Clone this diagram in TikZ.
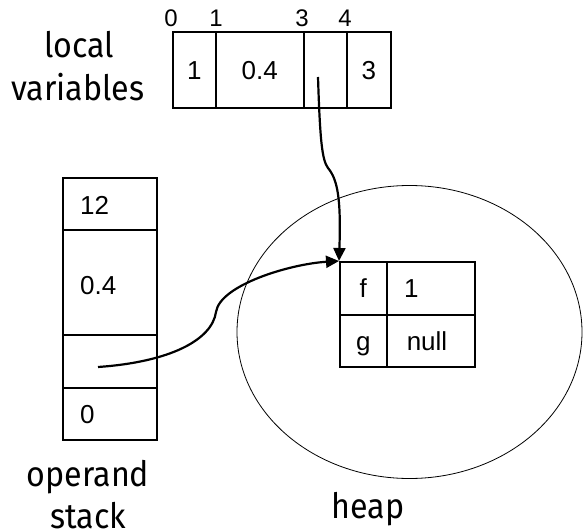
\documentclass[tikz,border=0pt]{standalone}
\usepackage{fontspec}
\setmainfont{Liberation Sans}
\newfontfamily\labelfont[FakeStretch=0.92]{Fira Sans}
\usetikzlibrary{arrows.meta,shapes.geometric}
\begin{document}
\begin{tikzpicture}[x=1pt,y=-1pt,
  cell/.style={draw,line width=1.6pt,anchor=north west,inner sep=0pt,
    text height=18.6pt,text depth=0pt,font=\fontsize{26}{30}\selectfont},
  celltext/.style={inner sep=0pt,text height=18.6pt,text depth=0pt,
    font=\fontsize{26}{30}\selectfont},
  idx/.style={inner sep=0pt,anchor=base,font=\fontsize{24}{28}\selectfont},
  caption/.style={inner sep=0pt,anchor=base,font=\labelfont\fontsize{35}{42}\selectfont},
  ref/.style={line width=2.2pt,-{Triangle[length=13pt,width=12pt]}}]
\useasboundingbox (0,0) rectangle (583,532);

% heap region
\node[ellipse,draw,line width=0.8pt,minimum width=345pt,minimum height=293pt,inner sep=0pt]
  (heap) at (409.5,332) {};

% local variable slots
\node[cell,minimum width=43pt,minimum height=76pt] (lv0) at (172,31) {1};
\node[cell,minimum width=88pt,minimum height=76pt] (lv1) at (215,31) {0.4};
\node[cell,minimum width=43pt,minimum height=76pt] (lv3) at (303,31) {};
\node[cell,minimum width=44pt,minimum height=76pt] (lv4) at (346,31) {3};

% slot indices
\node[idx] (i0) at (171,27) {0};
\node[idx] (i1) at (216,27) {1};
\node[idx] (i3) at (302,27) {3};
\node[idx] (i4) at (345,27) {4};

% operand stack
\node[cell,minimum width=94pt,minimum height=52pt] (s0) at (62,177) {};
\node[cell,minimum width=94pt,minimum height=105pt] (s1) at (62,229) {};
\node[cell,minimum width=94pt,minimum height=53pt] (s2) at (62,334) {};
\node[cell,minimum width=94pt,minimum height=52pt] (s3) at (62,387) {};
\node[celltext,anchor=west] (t12) at (80,205) {12};
\node[celltext,anchor=west] (t04) at (80,285) {0.4};
\node[celltext,anchor=west] (t0) at (80,414) {0};

% object in the heap
\node[cell,minimum width=47pt,minimum height=53pt] (fa) at (339,261) {f};
\node[cell,minimum width=88pt,minimum height=53pt] (fb) at (386,261) {};
\node[cell,minimum width=47pt,minimum height=52pt] (ga) at (339,314) {g};
\node[cell,minimum width=88pt,minimum height=52pt] (gb) at (386,314) {};
\node[celltext,anchor=west] (fv) at (404,288) {1};
\node[celltext] (gv) at (427,341) {null};

% captions
\node[caption] (cap1) at (79,58) {local};
\node[caption] (cap2) at (78,101) {variables};
\node[caption] (cap3) at (88,486) {operand};
\node[caption] (cap4) at (88,528) {stack};
\node[caption] (cap5) at (368,518) {heap};

% references
\coordinate (p3) at (318,77);
\coordinate (p2) at (98,367);
\draw[ref] (p3) .. controls (320,140) and (322,160) .. (328,168)
  .. controls (338,180) and (341,200) .. (fa.north west);
\draw[ref] (p2) .. controls (170,362) and (212,340) .. (216,312)
  .. controls (220,285) and (290,264) .. (fa.north west);
\end{tikzpicture}
\end{document}
